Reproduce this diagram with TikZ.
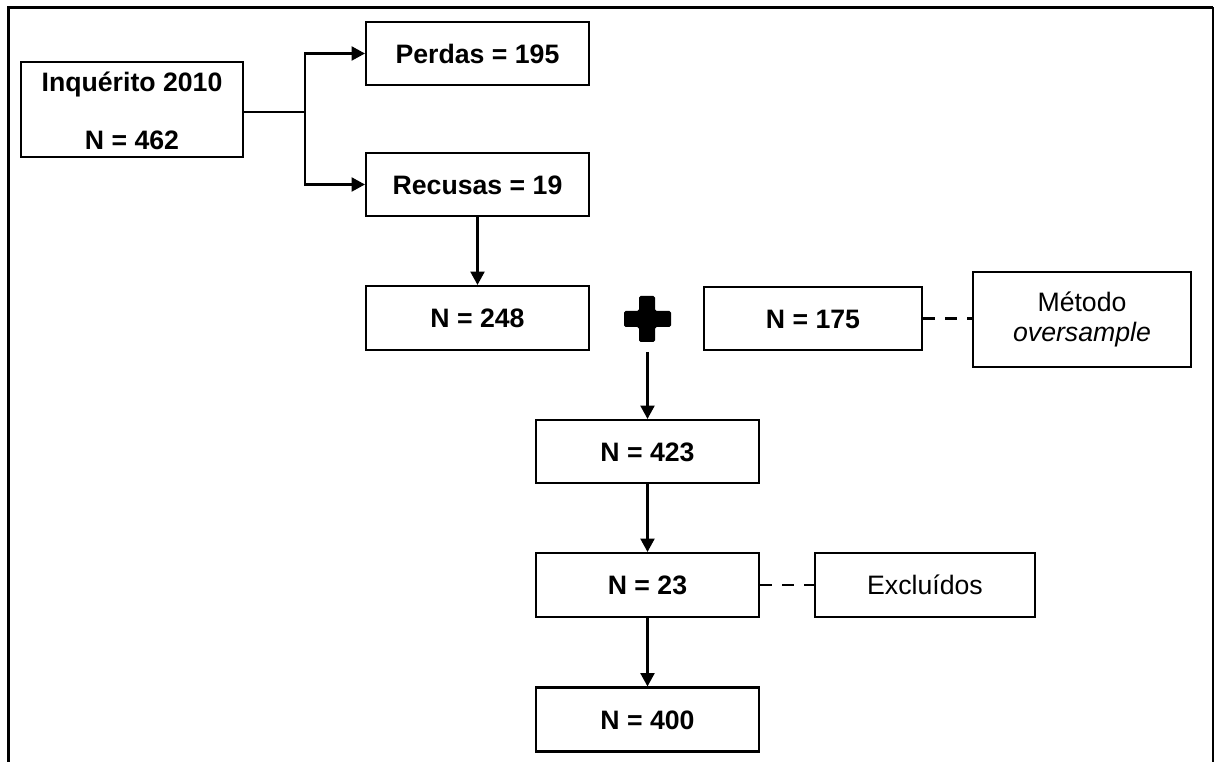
\documentclass[tikz,border=0pt]{standalone}
\usepackage{fontspec}
\setmainfont{Liberation Sans}
\usetikzlibrary{arrows.meta}

\tikzset{
  flowbox/.style={draw=black, line width=1.6pt, rectangle, inner sep=0pt,
    font=\fontsize{20pt}{23.5pt}\selectfont\bfseries,
    text height=14.3pt, text depth=0pt},
  notebox/.style={draw=black, line width=1.6pt, rectangle, inner sep=0pt,
    font=\fontsize{20pt}{23pt}\selectfont, align=center},
  boldtext/.style={inner sep=0pt, font=\fontsize{20pt}{23.5pt}\selectfont\bfseries},
  flowarrow/.style={line width=1.6pt, -{Triangle[width=10.5pt,length=10pt]}},
  dashlink/.style={line width=1.6pt, dash pattern=on 9pt off 7.5pt}
}

\begin{document}
\begin{tikzpicture}[x=0.75pt,y=-0.75pt]
  \useasboundingbox (0,0) rectangle (1216,762);

  % open frame round the chart
  \draw[line width=2.25pt] (8.5,762) -- (8.5,7.5) -- (1213,7.5);
  \draw[line width=1.5pt] (1213,7.5) -- (1213,762);

  % starting sample
  \node[flowbox, minimum width=222*0.75pt, minimum height=95*0.75pt] (inq) at (132,109.5) {};
  \node[boldtext, anchor=base] (inqa) at (132,92) {Inquérito 2010};
  \node[boldtext, anchor=base] (inqb) at (132,150) {N = 462};

  % losses and refusals
  \node[flowbox, minimum width=223*0.75pt, minimum height=63*0.75pt] (perdas) at (477.5,53.5) {Perdas = 195};
  \node[flowbox, minimum width=223*0.75pt, minimum height=63*0.75pt] (recusas) at (477.5,184.5) {Recusas = 19};

  % remaining and added samples
  \node[flowbox, minimum width=223*0.75pt, minimum height=64*0.75pt] (n248) at (477.5,318) {N = 248};
  \node[flowbox, minimum width=218*0.75pt, minimum height=63*0.75pt] (n175) at (813,318.5) {N = 175};
  \node[notebox, minimum width=218*0.75pt, minimum height=95*0.75pt] (metodo) at (1082,319.5) {Método\\\itshape oversample};

  % plus sign joining the two samples
  \fill[rounded corners=1.2pt]
    (639,296) -- (655,296) -- (655,311) -- (671,311) -- (671,327) -- (655,327)
    -- (655,342) -- (639,342) -- (639,327) -- (624,327) -- (624,311) -- (639,311) -- cycle;
  \coordinate (plusout) at (647.5,352);

  % combined, excluded and final samples
  \node[flowbox, minimum width=223*0.75pt, minimum height=63*0.75pt] (n423) at (647.5,451.5) {N = 423};
  \node[flowbox, minimum width=223*0.75pt, minimum height=64*0.75pt] (n23) at (647.5,585) {N = 23};
  \node[notebox, minimum width=220*0.75pt, minimum height=64*0.75pt] (excl) at (925,585) {Excluídos};
  \node[flowbox, minimum width=223*0.75pt, minimum height=64*0.75pt] (n400) at (647.5,719.5) {N = 400};

  % connectors
  \coordinate (split) at (305,112);
  \draw[line width=1.6pt] (inq.east |- split) -- (split);
  \draw[flowarrow] (split) |- (perdas.west);
  \draw[flowarrow] (split) |- (recusas.west);
  \draw[flowarrow] (recusas.south) -- (n248.north);
  \draw[flowarrow] (plusout) -- (n423.north);
  \draw[flowarrow] (n423.south) -- (n23.north);
  \draw[flowarrow] (n23.south) -- (n400.north);
  \draw[dashlink] (n175.east) -- (n175.east -| metodo.west);
  \draw[dashlink] (n23.east) -- (excl.west);
\end{tikzpicture}
\end{document}
